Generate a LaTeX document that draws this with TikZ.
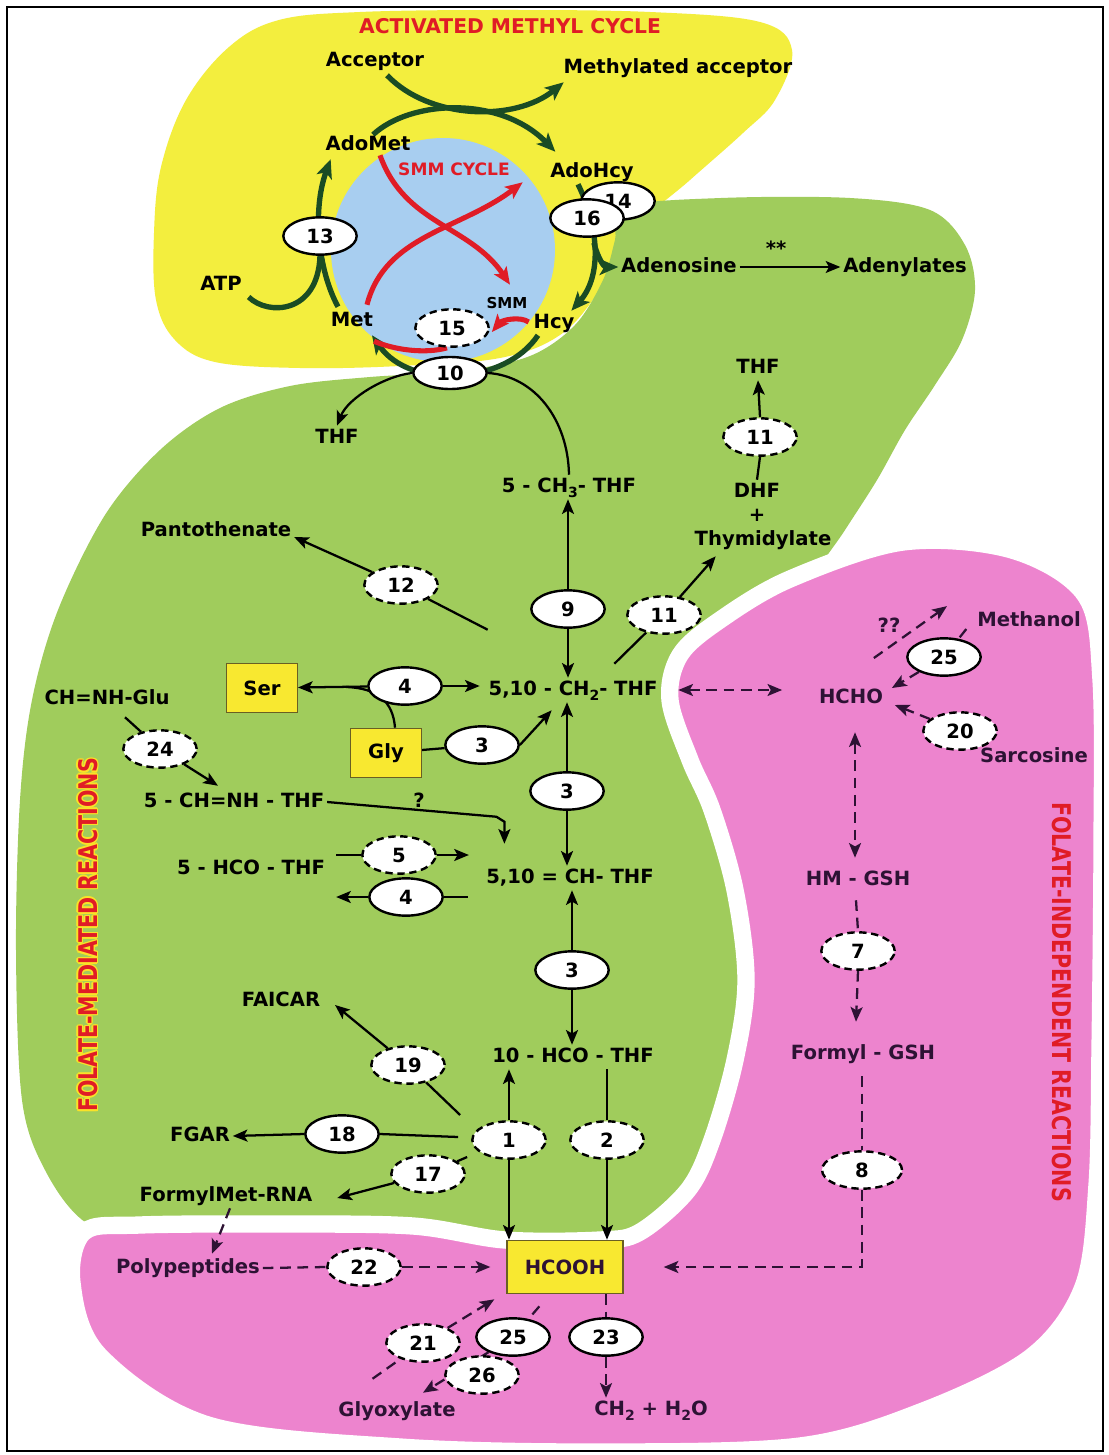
\documentclass[tikz,border=0pt]{standalone}
\usepackage{fontspec}
\usetikzlibrary{shapes.geometric,arrows.meta,calc}
\newfontfamily\dvs{DejaVu Sans}
\newfontfamily\dvsc{DejaVu Sans}[FakeStretch=0.8]

\definecolor{yelblob}{RGB}{243,238,62}
\definecolor{grnblob}{RGB}{160,204,92}
\definecolor{pnkblob}{RGB}{237,132,206}
\definecolor{blucirc}{RGB}{168,206,240}
\definecolor{boxyel}{RGB}{248,232,48}
\definecolor{boxedge}{RGB}{105,95,35}
\definecolor{smmred}{RGB}{224,28,38}
\definecolor{dgreen}{RGB}{26,76,36}
\definecolor{pinkink}{RGB}{45,18,52}
\definecolor{glowyel}{RGB}{250,226,40}

\pgfdeclarelayer{blobs}
\pgfdeclarelayer{links}
\pgfsetlayers{blobs,links,main}

% small lowered index (CH2, CH3, H2O)
\newcommand\sbs[1]{\raisebox{-0.28em}{\fontsize{10.5}{10.5}\selectfont #1}}

\tikzset{
  lbl/.style={font=\dvs\bfseries\fontsize{14.7}{16}\selectfont, inner sep=2pt,
              text height=11pt, text depth=3pt},
  plbl/.style={lbl, text=pinkink},
  smalllbl/.style={lbl, font=\dvs\bfseries\fontsize{11.3}{13}\selectfont},
  redlbl/.style={lbl, text=smmred, font=\dvs\bfseries\fontsize{12.8}{14}\selectfont},
  ttl/.style={lbl, text=smmred, font=\dvs\bfseries\fontsize{15.2}{17}\selectfont},
  vred/.style={font=\dvsc\bfseries\fontsize{19.3}{21}\selectfont, text=smmred, inner sep=0pt},
  rxn/.style={ellipse, draw=black, fill=white, line width=1.8pt,
              minimum width=55pt, minimum height=28pt, inner sep=0pt,
              font=\dvs\bfseries\fontsize{14.7}{16}\selectfont},
  drxn/.style={rxn, dash pattern=on 5.5pt off 3.5pt},
  sbox/.style={rectangle, draw=boxedge, line width=1pt, fill=boxyel,
               minimum width=53pt, minimum height=37pt, inner sep=0pt,
               font=\dvs\bfseries\fontsize{14.7}{16}\selectfont},
  hbox/.style={sbox, minimum width=87pt, minimum height=40pt, text=pinkink},
  conn/.style={line width=1.7pt, draw=black},
  dconn/.style={line width=1.7pt, draw=pinkink, dash pattern=on 8pt off 5pt},
  arr/.style={-{Stealth[length=11pt,width=9pt,inset=2.5pt]}},
  arr2/.style={{Stealth[length=11pt,width=9pt,inset=2.5pt]}-{Stealth[length=11pt,width=9pt,inset=2.5pt]}},
  cyc/.style={line width=4pt, draw=dgreen, -{Stealth[length=14pt,width=12pt,inset=3.5pt]}},
  smmarr/.style={line width=3.8pt, draw=smmred, -{Stealth[length=13pt,width=11pt,inset=3pt]}},
}

\begin{document}
\begin{tikzpicture}[x=0.75pt,y=-0.75pt]
\useasboundingbox (0,0) rectangle (1109,1455);

% ---------------- coloured regions ----------------
\begin{pgfonlayer}{blobs}
\fill[white] (0,0) rectangle (1109,1455);
% activated methyl cycle
\fill[yelblob] plot[smooth cycle, tension=0.6] coordinates {
  (229,47) (279,20) (360,12) (500,10) (650,12) (760,22) (792,50) (775,100)
  (743,133) (690,180) (640,225) (600,290) (560,335) (500,358) (400,366)
  (300,368) (215,362) (175,340) (156,300) (154,233) (161,167) (186,100)};
% folate-mediated reactions
\fill[grnblob] plot[smooth cycle, tension=0.55] coordinates {
  (623,207) (721,198) (850,198) (930,210) (965,245) (975,290) (962,340)
  (935,385) (905,430) (877,480) (845,530) (800,600) (770,700) (765,900)
  (760,1100) (720,1200) (660,1245) (560,1262) (450,1252) (300,1246)
  (150,1244) (85,1222) (45,1170) (22,1100) (16,950) (20,800) (32,700)
  (58,610) (105,515) (160,450) (220,408) (290,386) (370,377) (460,371)
  (530,356) (575,325) (603,280) (615,240)};
% folate-independent reactions
\filldraw[fill=pnkblob, draw=white, line width=13pt] plot[smooth cycle, tension=0.55] coordinates {
  (670,700) (680,655) (720,620) (790,579) (903,542) (1012,550) (1085,595)
  (1101,680) (1102,850) (1100,1050) (1097,1185) (1083,1287) (1031,1357)
  (923,1411) (800,1446) (600,1452) (400,1447) (208,1425) (99,1355) (72,1283)
  (84,1232) (140,1225) (280,1224) (413,1226) (505,1240) (600,1240)
  (640,1232) (688,1190) (712,1140) (735,1060) (746,980) (735,890)
  (712,810) (690,760)};
% SMM cycle disc
\fill[blucirc] (443,250) circle[radius=112];
\end{pgfonlayer}

% ---------------- activated methyl cycle ----------------
\node[ttl] (title) at (510,28) {ACTIVATED METHYL CYCLE};
\node[lbl] (acc) at (375,61) {Acceptor};
\node[lbl] (macc) at (678,68) {Methylated acceptor};
\node[lbl] (adomet) at (368,145) {AdoMet};
\node[redlbl] (smmcyc) at (454,170) {SMM CYCLE};
\node[lbl] (adohcy) at (592,172) {AdoHcy};
\node[lbl] (atp) at (221,285) {ATP};
\node[lbl] (met) at (352,321) {Met};
\node[smalllbl] (smm) at (507,303) {SMM};
\node[lbl] (hcy) at (554,323) {Hcy};
\node[lbl] (adenosine) at (679,267) {Adenosine};
\node[lbl] (stars) at (776,250) {**};
\node[lbl] (adenylates) at (905,267) {Adenylates};
\node[rxn] (e13) at (320,236) {13};
\node[rxn] (e14) at (618,201) {14};
\node[rxn] (e16) at (587,218) {16};
\node[drxn] (e15) at (452,328) {15};
\node[rxn, minimum height=24pt] (e10) at (450,373) {10};

% ---------------- folate-mediated reactions ----------------
\node[lbl] (thfA) at (337,438) {THF};
\node[lbl] (thfB) at (758,368) {THF};
\node[drxn] (e11b) at (760,437) {11};
\node[lbl] (dhf) at (757,492) {DHF};
\node[lbl] (plus) at (757,516) {+};
\node[lbl] (thymid) at (763,540) {Thymidylate};
\node[lbl] (ch3thf) at (569,487) {5 - CH\sbs{3}- THF};
\node[lbl] (panto) at (216,531) {Pantothenate};
\node[drxn] (e12) at (401,585) {12};
\node[rxn] (e9) at (568,609) {9};
\node[drxn] (e11a) at (664,615) {11};
\node[sbox] (ser) at (262,688) {Ser};
\node[rxn] (e4a) at (405,686) {4};
\node[lbl] (ch2thf) at (573,690) {5,10 - CH\sbs{2}- THF};
\node[sbox] (gly) at (386,753) {Gly};
\node[rxn] (e3a) at (482,745) {3};
\node[lbl] (chnhglu) at (107,699) {CH=NH-Glu};
\node[drxn] (e24) at (160,749) {24};
\node[rxn] (e3b) at (567,791) {3};
\node[lbl] (chnhthf) at (234,802) {5 - CH=NH - THF};
\node[lbl] (qmark) at (419,802) {?};
\node[lbl] (hcothf5) at (251,869) {5 - HCO - THF};
\node[drxn] (e5) at (399,855) {5};
\node[rxn] (e4b) at (406,897) {4};
\node[lbl] (chthf) at (570,878) {5,10 = CH- THF};
\node[rxn] (e3c) at (572,970) {3};
\node[lbl] (faicar) at (281,1001) {FAICAR};
\node[lbl] (hcothf10) at (573,1057) {10 - HCO - THF};
\node[drxn] (e19) at (408,1065) {19};
\node[rxn] (e18) at (342,1134) {18};
\node[lbl] (fgar) at (200,1136) {FGAR};
\node[drxn] (e1) at (509,1140) {1};
\node[drxn] (e2) at (607,1140) {2};
\node[drxn] (e17) at (428,1174) {17};
\node[lbl] (fmet) at (226,1196) {FormylMet-RNA};

% ---------------- folate-independent reactions ----------------
\node[plbl] (polyp) at (188,1268) {Polypeptides};
\node[drxn] (e22) at (364,1267) {22};
\node[hbox] (hcooh) at (565,1267) {HCOOH};
\node[drxn] (e21) at (423,1343) {21};
\node[rxn] (e25b) at (513,1337) {25};
\node[rxn] (e23) at (606,1337) {23};
\node[plbl] (glyox) at (397,1411) {Glyoxylate};
\node[plbl] (ch2h2o) at (651,1410) {CH\sbs{2} + H\sbs{2}O};
\node[plbl] (hcho) at (851,698) {HCHO};
\node[plbl] (methanol) at (1029,621) {Methanol};
\node[plbl] (qq) at (889,627) {??};
\node[rxn] (e25a) at (944,657) {25};
\node[drxn] (e20) at (960,731) {20};
\node[plbl] (sarcosine) at (1034,757) {Sarcosine};
\node[plbl] (hmgsh) at (858,880) {HM - GSH};
\node[drxn] (e7) at (858,951) {7};
\node[plbl] (formylgsh) at (863,1054) {Formyl - GSH};
\node[drxn, minimum width=60pt] (e8) at (862,1170) {8};

% section titles
\foreach \dx/\dy [count=\i] in {1.6/0,-1.6/0,0/1.6,0/-1.6,1.1/1.1,-1.1/1.1,1.1/-1.1,-1.1/-1.1}
  \node[vred, rotate=90, text=glowyel] (fmrglow\i) at (88+\dx,935+\dy) {FOLATE-MEDIATED REACTIONS};
\node[vred, rotate=90] (fmr) at (88,935) {FOLATE-MEDIATED REACTIONS};
\node[vred, rotate=-90] (fir) at (1062,1002) {FOLATE-INDEPENDENT REACTIONS};

% ---------------- connectors ----------------
\begin{pgfonlayer}{links}
% methyl cycle (thick green)
\draw[cyc] ($(acc.south)+(12,2)$) .. controls (430,120) and (515,122) .. ($(macc.south west)+(3,2)$);
\draw[cyc] ($(adomet.north)+(5,2)$) .. controls (410,100) and (500,95) .. ($(adohcy.north west)+(8,-8)$);
\draw[cyc] ($(met.north)+(-14,-2)$) .. controls (318,270) and (312,210) .. ($(adomet.south west)+(8,2)$);
\draw[cyc,-] ($(atp.east)+(4,12)$) .. controls (268,316) and (318,314) .. (e13.south);
\draw[cyc] ($(adohcy.south)+(-14,0)$) .. controls (598,225) and (603,275) .. coordinate[pos=0.45] (br) ($(hcy.north east)+(-6,0)$);
\draw[cyc] (br) .. controls ($(br)+(4,16)$) and ($(adenosine.west)+(-14,0)$) .. (adenosine.west);
\draw[cyc] ($(hcy.south)+(-16,0)$) .. controls (505,385) and (410,390) .. ($(met.south east)+(-4,2)$);
% SMM cycle (red)
\draw[smmarr] ($(adomet.south)+(12,-2)$) .. controls (405,225) and (470,225) .. ($(smm.north)+(3,-6)$);
\draw[smmarr] ($(met.north)+(15,-4)$) .. controls (385,235) and (460,230) .. ($(smmcyc.south east)+(10,0)$);
\draw[smmarr] ($(hcy.west)+(-2,-1)$) .. controls (520,316) and (502,320) .. ($(e15.east)+(2,4)$);
\draw[smmarr,-] ($(e15.south)+(-5,0)$) .. controls (425,354) and (395,350) .. ($(met.south east)+(-2,8)$);
\draw[conn,arr,line width=1.1pt] (adenosine.east) -- (adenylates.west);

% folate-mediated reactions
\draw[conn,arr] (e10.west) .. controls (385,376) and (348,398) .. (thfA.north);
\draw[conn] (ch3thf.north) .. controls (568,420) and (535,376) .. (e10.east);
\draw[conn,arr] (e9.north) -- (e9.north |- ch3thf.south);
\draw[conn,arr] (e9.south) -- (e9.south |- ch2thf.north);
\draw[conn] (dhf.north) -- (e11b.south);
\draw[conn,arr] (e11b.north) -- (thfB.south);
\draw[conn] ($(ch2thf.north east)+(-46,-14)$) -- (e11a);
\draw[conn,arr] (e11a) -- ($(thymid.south west)+(24,4)$);
\draw[conn] ($(ch2thf.north west)+(2,-48)$) -- (e12);
\draw[conn,arr] (e12) -- ($(panto.east)+(0,6)$);
\draw[conn,arr] (e4a) -- (ser);
\draw[conn,arr] (e4a.east) -- ($(ch2thf.west)+(-6,-4)$);
\draw[conn] ($(gly.north)+(9,0)$) .. controls (393,702) and (378,688) .. ($(ser.east)+(48,-1)$);
\draw[conn] (gly) -- (e3a);
\draw[conn,arr] (e3a.east) -- ($(ch2thf.south west)+(66,8)$);
\draw[conn] ($(chnhglu.south)+(18,6)$) -- (e24);
\draw[conn,arr] (e24) -- ($(chnhthf.north)+(-16,-4)$);
\draw[conn,arr] (chnhthf.east) -- ($(chthf.north west)+(13,-49)$) -- ($(chthf.north west)+(21,-44)$) -- ($(chthf.north west)+(21,-22)$);
\draw[conn] (e5.west) -- ++(-25,0);
\draw[conn,arr] (e5.east) -- ++(32,0);
\draw[conn] (e4b.east) -- ++(24,0);
\draw[conn,arr] (e4b.west) -- ++(-32,0);
\draw[conn,arr] (e3b.north) -- (e3b.north |- ch2thf.south);
\draw[conn,arr] (e3b.south) -- (e3b.south |- chthf.north);
\draw[conn,arr] (e3c.north) -- (e3c.north |- chthf.south);
\draw[conn,arr] (e3c.south) -- (e3c.south |- hcothf10.north);
\draw[conn,arr] (e1.north) -- (e1.north |- hcothf10.south);
\draw[conn,arr] (e1.south) -- (e1.south |- hcooh.north);
\draw[conn] (e2.north |- hcothf10.south) -- (e2.north);
\draw[conn,arr] (e2.south) -- (e2.south |- hcooh.north);
\draw[conn] ($(e1.west)+(-11,-25)$) -- (e19);
\draw[conn,arr] (e19) -- ($(faicar.east)+(12,4)$);
\draw[conn] ($(e1.west)+(-13,-3)$) -- (e18.east);
\draw[conn,arr] (e18.west) -- (fgar.east);
\draw[conn] ($(e1.west)+(-4,17)$) -- (e17);
\draw[conn,arr] (e17) -- ($(fmet.east)+(22,2)$);

% folate-independent reactions
\draw[dconn,arr] ($(fmet.south)+(4,0)$) -- ($(polyp.north)+(24,-2)$);
\draw[dconn] (polyp.east) -- (e22.west);
\draw[dconn,arr] (e22.east) -- ($(hcooh.west)+(-16,0)$);
\draw[dconn,arr2] ($(ch2thf.east)+(18,0)$) -- ($(hcho.west |- ch2thf.east)+(-34,0)$);
\draw[dconn] ($(methanol.west)+(-8,8)$) -- (e25a);
\draw[dconn,arr] (e25a) -- ($(hcho.east)+(6,-10)$);
\draw[dconn,arr] ($(hcho.east)+(-12,-40)$) -- ($(e25a.north)+(3,-31)$);
\draw[dconn,arr] (e20) -- ($(hcho.east)+(9,7)$);
\draw[dconn,arr2] ($(hcho.south)+(4,22)$) -- ($(hmgsh.north)+(-3,-10)$);
\draw[dconn] ($(hmgsh.south)+(-2,8)$) -- (e7.north);
\draw[dconn,arr] (e7.south) -- ($(formylgsh.north)+(-7,-20)$);
\draw[dconn] ($(formylgsh.south)+(-1,10)$) -- (e8.north);
\draw[dconn,arr] (e8.south) |- ($(hcooh.east)+(40,0)$);
\draw[dconn] ($(glyox.north west)+(37,-20)$) -- (e21);
\draw[dconn,arr] (e21) -- ($(hcooh.south west)+(-12,5)$);
\draw[dconn] ($(hcooh.south west)+(33,12)$) -- (e25b);
\draw[dconn,arr] (e25b) -- ($(glyox.north)+(26,-6)$);
\draw[dconn] (hcooh.south -| e23) -- (e23.north);
\draw[dconn,arr] (e23.south) -- (e23.south |- ch2h2o.north);
\end{pgfonlayer}

% drawn over the glyoxylate arrow
\node[drxn] (e26) at (482,1375) {26};

% outer frame
\draw[line width=2.2pt] (7,7) rectangle (1103,1451);
\end{tikzpicture}
\end{document}
